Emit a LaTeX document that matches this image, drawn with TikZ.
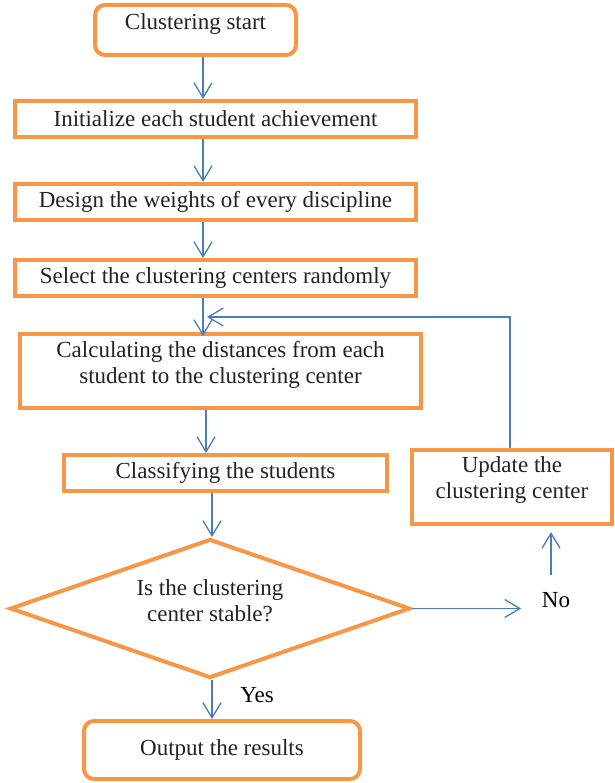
\documentclass[tikz,border=0pt]{standalone}
\usepackage{fontspec}
\setmainfont{Liberation Serif}
\usetikzlibrary{arrows.meta,shapes.geometric}
\definecolor{boxorange}{HTML}{F79646}
\definecolor{flowblue}{HTML}{4A7EBB}
\definecolor{inktext}{HTML}{222222}

\begin{document}
\begin{tikzpicture}[x=1pt,y=-1pt,
  txt/.style={font=\fontsize{23}{26.5}\selectfont, text=inktext, align=center, inner sep=0pt},
  stepbox/.style={draw=boxorange, line width=4pt, inner sep=0pt, txt},
  roundbox/.style={stepbox, rounded corners=10pt},
  decision/.style={diamond, draw=boxorange, line width=4pt, inner sep=0pt, shape aspect=2.9},
  flow/.style={draw=flowblue, line width=1.3pt, -{Straight Barb[length=15pt,width=18pt]}},
  tag/.style={font=\fontsize{23}{26.5}\selectfont, text=black, inner sep=0pt}
]
\useasboundingbox (0,0) rectangle (614,783);

% process boxes
\node[roundbox, minimum width=201, minimum height=50,
      label={[txt,yshift=6pt]center:Clustering start}] (start) at (195.5,30) {};
\node[stepbox, minimum width=401, minimum height=36] (init) at (215.5,119) {Initialize each student achievement};
\node[stepbox, minimum width=401, minimum height=36] (design) at (215.5,202) {Design the weights of every discipline};
\node[stepbox, minimum width=401, minimum height=36] (select) at (215.5,278) {Select the clustering centers randomly};
\node[stepbox, minimum width=401, minimum height=74,
      label={[txt,yshift=6pt]center:Calculating the distances from each\\student to the clustering center}] (calc) at (220.5,371) {};
\node[stepbox, minimum width=323, minimum height=36] (classify) at (225.5,473) {Classifying the students};
\node[stepbox, minimum width=200, minimum height=74,
      label={[txt,yshift=7pt]center:Update the\\clustering center}] (update) at (512,487) {};
\node[decision, minimum width=400, minimum height=139,
      label={[txt,yshift=8pt]center:Is the clustering\\center stable?}] (dec) at (210,608.5) {};
\node[roundbox, minimum width=276, minimum height=58] (out) at (222,750) {Output the results};

% branch labels
\node[tag] (no) at (556,600) {No};
\node[tag] (yes) at (257,695) {Yes};

% connector columns and bends
\coordinate (colA) at (203,0);
\coordinate (colB) at (206,0);
\coordinate (colC) at (212,0);
\coordinate (fb) at (510,317);
\coordinate (fbend) at (207,317);
\coordinate (notip) at (521,0);
\coordinate (upbot) at (551,575);

% main flow
\draw[flow] (start.south -| colA) -- (init.north -| colA);
\draw[flow] (init.south -| colA) -- (design.north -| colA);
\draw[flow] (design.south -| colA) -- (select.north -| colA);
\draw[flow] (select.south -| colA) -- ([yshift=-4pt]calc.north -| colA);
\draw[flow] (calc.south -| colB) -- (classify.north -| colB);
\draw[flow] (classify.south -| colC) -- (dec.north -| colC);
\draw[flow] (dec.south -| colC) -- (out.north -| colC);

% loop back through the update step
\draw[flow] (dec.east) -- (dec.east -| notip);
\draw[flow, shorten >=6pt] (upbot) -- (update.south -| upbot);
\draw[flow] (update.north -| fb) -- (fb) -- (fbend);
\end{tikzpicture}
\end{document}
